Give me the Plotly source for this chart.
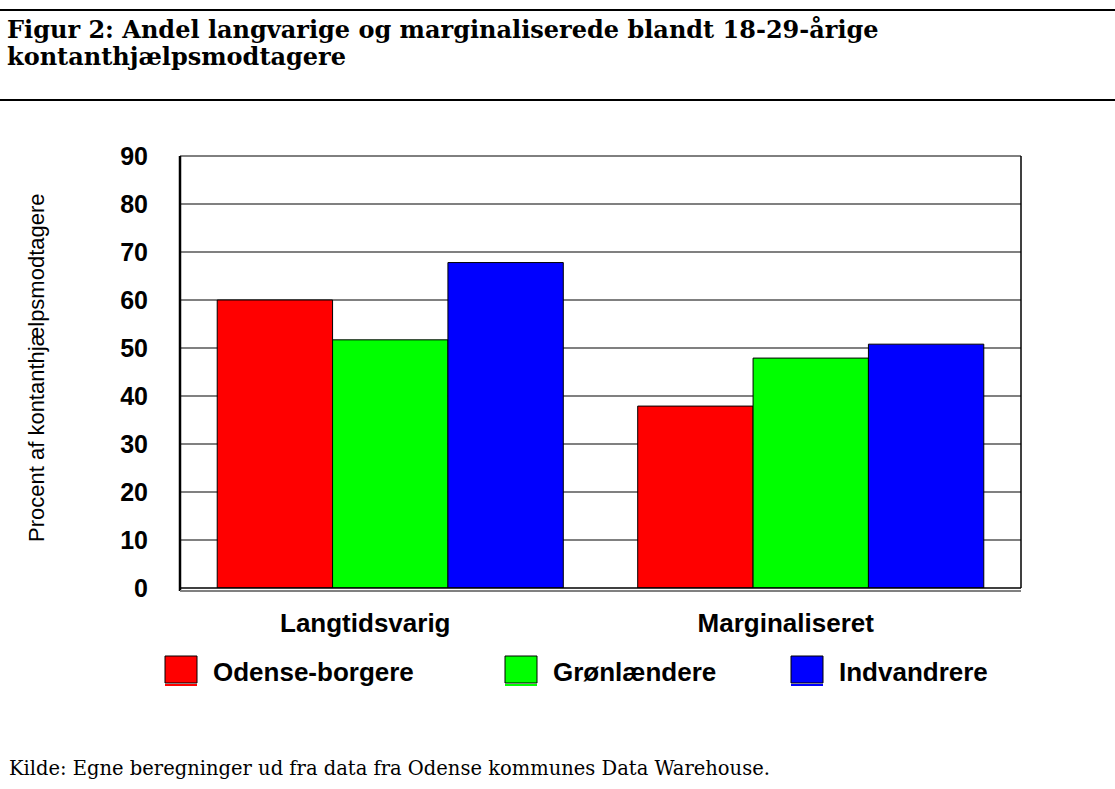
import plotly.graph_objects as go

categories = ["Langtidsvarig", "Marginaliseret"]
series_names = ["Odense-borgere", "Grønlændere", "Indvandrere"]
odense = [60.0, 37.9]
groenlaendere = [51.7, 47.9]
indvandrere = [67.8, 50.8]
series_values = [odense, groenlaendere, indvandrere]
colors = ["#FF0000", "#00FF00", "#0000FF"]
y_ticks = [0, 10, 20, 30, 40, 50, 60, 70, 80, 90]

title_lines = ["Figur 2: Andel langvarige og marginaliserede blandt 18-29-årige",
               "kontanthjælpsmodtagere"]
y_title = "Procent af kontanthjælpsmodtagere"
source = "Kilde: Egne beregninger ud fra data fra Odense kommunes Data Warehouse."

W, H = 1115, 789
L, R, T, B = 180, 1021, 156, 588
SANS = "Liberation Sans, Arial"
SERIF = "DejaVu Serif, Liberation Serif"


def px(x):
    return (x - L) / (R - L)


def py(y):
    return (B - y) / (B - T)


fig = go.Figure()
for name, vals, c in zip(series_names, series_values, colors):
    fig.add_trace(go.Bar(x=categories, y=vals, name=name, marker_color=c,
                         marker_line=dict(color="#000000", width=1),
                         showlegend=False))

fig.update_layout(
    width=W, height=H,
    margin=dict(l=L, r=W - R, t=T, b=H - B, pad=0),
    paper_bgcolor="white", plot_bgcolor="white",
    barmode="group", bargap=0.177, bargroupgap=0,
    font=dict(family=SANS, color="black"),
)
fig.update_yaxes(range=[0, 90], tickvals=y_ticks, showgrid=True,
                 gridcolor="#808080", gridwidth=1.5, zeroline=False,
                 showline=False, ticks="", ticklabelstandoff=31,
                 tickfont=dict(family=SANS, size=25, color="black", weight="bold"))
fig.update_xaxes(showgrid=False, showline=False, ticks="", ticklabelstandoff=17,
                 ticklabelshift=-25,
                 tickfont=dict(family=SANS, size=26, color="black", weight="bold"))

shapes = []
# plot frame
shapes.append(dict(type="line", xref="paper", yref="paper", x0=0, x1=1, y0=1, y1=1,
                   line=dict(color="black", width=1)))
shapes.append(dict(type="line", xref="paper", yref="paper", x0=1, x1=1, y0=0, y1=1,
                   line=dict(color="black", width=1.5)))
shapes.append(dict(type="line", xref="paper", yref="paper", x0=0, x1=0, y0=py(591), y1=1,
                   line=dict(color="black", width=2.5)))
shapes.append(dict(type="line", xref="paper", yref="paper", x0=0, x1=1, y0=py(591), y1=py(591),
                   line=dict(color="#808080", width=2)))
shapes.append(dict(type="line", xref="paper", yref="paper", x0=0, x1=1, y0=0, y1=0,
                   line=dict(color="black", width=1.5)))
# title rules
for yy in [10, 100]:
    shapes.append(dict(type="line", xref="paper", yref="paper", x0=px(0), x1=px(W),
                       y0=py(yy), y1=py(yy), line=dict(color="black", width=2)))

annotations = []
for i, line in enumerate(title_lines):
    annotations.append(dict(text="<b>" + line + "</b>", xref="paper", yref="paper",
                            x=px(6), y=py(29 + i * 28), xanchor="left", yanchor="middle",
                            borderpad=0, showarrow=False,
                            font=dict(family=SERIF, size=24, color="black")))
annotations.append(dict(text=y_title, xref="paper", yref="paper", x=px(36), y=py(368),
                        textangle=-90, xanchor="center", yanchor="middle", showarrow=False,
                        font=dict(family=SANS, size=22, color="black")))
annotations.append(dict(text=source, xref="paper", yref="paper", x=px(7), y=py(768),
                        xanchor="left", yanchor="middle", showarrow=False,
                        font=dict(family=SERIF, size=19.5, color="black")))

# custom legend
legend_x = [165, 505, 791]
for name, c, lx in zip(series_names, colors, legend_x):
    shapes.append(dict(type="line", xref="paper", yref="paper", x0=px(lx), x1=px(lx + 32),
                       y0=py(685), y1=py(685), line=dict(color=c, width=2)))
    shapes.append(dict(type="rect", xref="paper", yref="paper", x0=px(lx), x1=px(lx + 32),
                       y0=py(683), y1=py(656), fillcolor=c, line=dict(color="black", width=1)))
    annotations.append(dict(text="<b>" + name + "</b>", xref="paper", yref="paper",
                            x=px(lx + 46), y=py(672), xanchor="left", yanchor="middle",
                            showarrow=False,
                            font=dict(family=SANS, size=26, color="black")))

fig.update_layout(shapes=shapes, annotations=annotations)
fig.write_html("out.html", config={"displayModeBar": False},
               post_script="document.body.style.margin='0px';")
